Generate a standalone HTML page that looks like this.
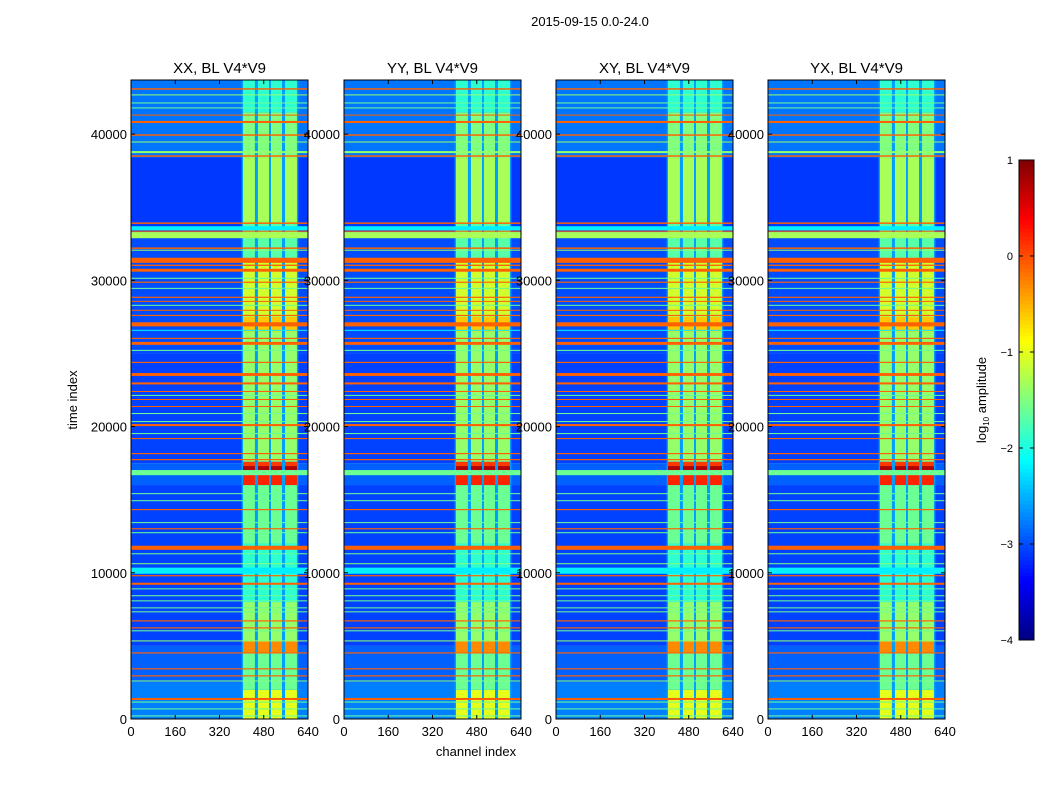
<!DOCTYPE html>
<html><head><meta charset="utf-8">
<style>
body{margin:0;background:#fff;font-family:"Liberation Sans",sans-serif;}
svg text{font-family:"Liberation Sans",sans-serif;fill:#000;}
</style></head>
<body>
<svg id="fig" width="1050" height="800" viewBox="0 0 1050 800" xmlns="http://www.w3.org/2000/svg">
<rect width="1050" height="800" fill="#fff"/>
<text x="590" y="26" font-size="13" text-anchor="middle">2015-09-15 0.0-24.0</text>
<text x="476" y="756" font-size="13" text-anchor="middle">channel index</text>
<text transform="translate(77,400) rotate(-90)" font-size="13" text-anchor="middle">time index</text>
<g id="panels"></g>
<g id="cbar"></g>
</svg>
<script>
const panelTitles=["XX, BL V4*V9","YY, BL V4*V9","XY, BL V4*V9","YX, BL V4*V9"];
const xTicks=[0,160,320,480,640];
const yTicks=[0,10000,20000,30000,40000];
const cbTicks=[1,0,-1,-2,-3,-4];
// background segments [t0,t1,log10 amp]
const bgT0=[0,2500,5000,16000,17500,25000,33000,38400];
const bgT1=[2500,5000,16000,17500,25000,33000,38400,43700];
const bgV=[-2.75,-2.9,-3.05,-2.9,-3.05,-3.0,-3.1,-2.8];
// bright channel columns
const colC0=[405,459,506,557];
const colC1=[448,499,546,600];
const gapV=-2.6;
const csT0=[0,2000,4500,5300,8000,12000,16000,16800,17300,17600,26500,27500,31500,33900,38400,41500];
const csT1=[2000,4500,5300,8000,12000,16000,16800,17300,17600,26500,27500,31500,33900,38400,41500,43700];
const csV=[-1.0,-1.6,-0.3,-1.4,-1.9,-1.6,0.2,0.75,0.1,-1.4,-0.6,-1.1,-1.7,-1.3,-1.5,-1.9];
// horizontal RFI lines [time, width in time units, value]
const lnT=[43090,42680,42130,41790,41300,40830,39935,39460,38770,38500,33910,33560,33360,33090,32200,32060,31370,31030,30690,30140,29870,29450,28840,28560,28290,27950,27600,26990,26580,26030,25690,25210,24390,23560,22950,22400,22130,21850,21370,20890,20340,20100,19520,19180,18150,17740,16850,15410,14930,14320,13430,13010,12740,11710,11300,10620,10140,9800,9250,8900,8430,8080,7600,7330,6710,6230,6030,5340,4520,3430,2950,2600,1370,1160,690,210];
const lnW=[100,70,70,70,70,140,100,70,140,100,100,280,70,420,100,70,350,90,200,70,80,70,80,70,70,70,80,280,70,80,200,70,80,200,140,70,70,70,70,70,70,140,70,80,80,80,350,70,70,80,70,80,70,280,70,70,420,80,140,70,70,70,70,70,80,80,70,70,80,80,80,70,140,70,70,70];
const lnV=[-0.1,-1.4,-1.6,-1.6,-0.1,-0.1,-0.1,-1.4,-1.4,-0.1,-0.1,-2.2,-0.1,-1.3,-0.1,-1.4,-0.1,-0.1,-0.1,-1.6,-0.1,-1.6,-0.1,-0.1,-1.6,-0.1,-0.1,-0.1,-2.2,-0.1,-0.1,-1.6,-0.1,-0.1,-0.1,-0.1,-1.6,-0.1,-0.1,-1.6,-1.6,-0.1,-1.6,-0.1,-0.1,-0.1,-1.6,-1.6,-1.6,-0.1,-1.6,-0.1,-1.6,-0.1,-1.6,-1.5,-2.2,-0.1,-0.1,-1.6,-1.6,-1.6,-1.6,-1.6,-0.1,-0.1,-1.6,-1.4,-0.1,-0.1,-0.1,-1.5,-0.1,-1.6,-1.6,-1.6];

const NS="http://www.w3.org/2000/svg";
const panelX=[131,344,556,768], PW=177, PT=80, PB=719, TMAX=43700, CMAX=640;
function jet(v){const f=Math.max(0,Math.min(1,(v+4)/5));
 const c=x=>Math.round(255*Math.max(0,Math.min(1,x)));
 const r=c(1.5-Math.abs(4*f-3)),g=c(1.5-Math.abs(4*f-2)),b=c(1.5-Math.abs(4*f-1));
 return `rgb(${r},${g},${b})`;}
function mk(tag,attrs,parent){const e=document.createElementNS(NS,tag);for(const k in attrs)e.setAttribute(k,attrs[k]);parent.appendChild(e);return e;}
const root=document.getElementById('panels');
panelX.forEach((px,pi)=>{
 const xs=c=>px+c/CMAX*PW, ys=t=>PB-t/TMAX*(PB-PT);
 const g=mk('g',{},root);
 
 
 const hm=mk('g',{},g);
 
 
 function cell(c0,c1,t0,t1,v){const y0=ys(t1),y1=ys(t0);
  const r=mk('rect',{x:xs(c0),y:y0,width:xs(c1)-xs(c0),height:Math.max(1,y1-y0),fill:jet(v)},hm);
  
  }
 bgT0.forEach((t,i)=>cell(0,CMAX,t,bgT1[i],bgV[i]));
 csT0.forEach((t,i)=>{cell(colC0[0]-5,colC1[3]+5,t,csT1[i],gapV);
  colC0.forEach((c,j)=>cell(c,colC1[j],t,csT1[i],csV[i]));});
 lnT.forEach((t,i)=>cell(0,CMAX,t-lnW[i]/2,t+lnW[i]/2,lnV[i]));
 const fr=mk('rect',{x:px,y:PT,width:PW,height:PB-PT,fill:'none',stroke:'#000','stroke-width':1},g);
 
 
 const tt=mk('text',{x:px+PW/2,y:PT-7,'font-size':15,'text-anchor':'middle'},g);
 
 
 tt.textContent=panelTitles[pi];
 xTicks.forEach(v=>{const x=xs(v);
  mk('line',{x1:x,x2:x,y1:PB,y2:PB-4,stroke:'#000'},g);mk('line',{x1:x,x2:x,y1:PT,y2:PT+4,stroke:'#000'},g);
  const l=mk('text',{x:x,y:PB+17,'font-size':13,'text-anchor':'middle'},g);
  
  
  l.textContent=v;});
 yTicks.forEach(v=>{const y=ys(v);
  mk('line',{x1:px,x2:px+4,y1:y,y2:y,stroke:'#000'},g);mk('line',{x1:px+PW,x2:px+PW-4,y1:y,y2:y,stroke:'#000'},g);
  const l=mk('text',{x:px-4,y:y+5,'font-size':13,'text-anchor':'end'},g);
  
  
  l.textContent=v;});
});
// colorbar
const cb=document.getElementById('cbar');


const CX=1019,CW=15,CT=160,CB=640;
for(let i=0;i<120;i++){const v=-4+5*(i+0.5)/120;const y=CB-(i+1)*(CB-CT)/120;
 mk('rect',{x:CX,y:y,width:CW,height:(CB-CT)/120+0.5,fill:jet(v)},cb);}
mk('rect',{x:CX,y:CT,width:CW,height:CB-CT,fill:'none',stroke:'#000'},cb);
cbTicks.forEach(v=>{const y=CB-(v+4)/5*(CB-CT);
 mk('line',{x1:CX,x2:CX+4,y1:y,y2:y,stroke:'#000'},cb);mk('line',{x1:CX+CW,x2:CX+CW-4,y1:y,y2:y,stroke:'#000'},cb);
 const l=mk('text',{x:CX-6,y:y+4,'font-size':11,'text-anchor':'end'},cb);
 
 
 l.textContent=v<0?'\u2212'+(-v):v;});
const cl=mk('text',{transform:'translate(986,400) rotate(-90)','font-size':13,'text-anchor':'middle'},cb);


cl.innerHTML='log<tspan font-size="8" dy="3">10</tspan><tspan dy="-3"> amplitude</tspan>';
</script>
</body></html>
